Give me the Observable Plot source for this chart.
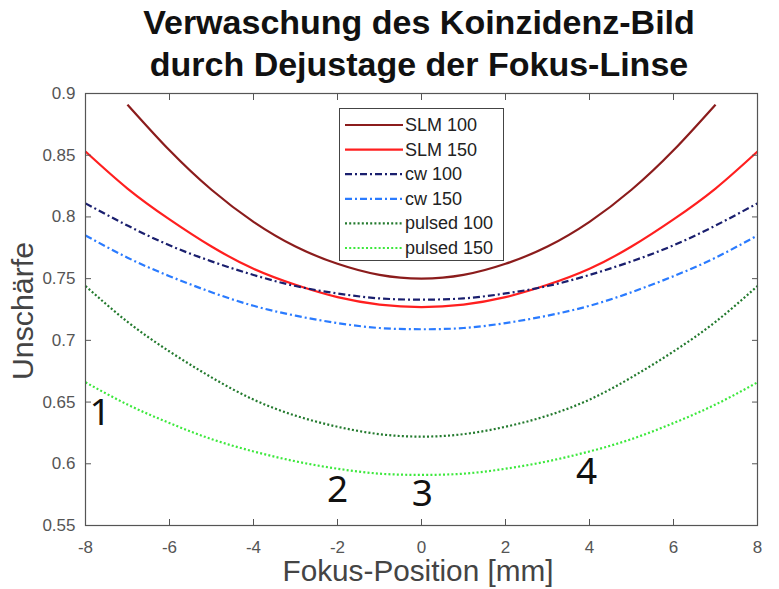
<!DOCTYPE html>
<html><head><meta charset="utf-8">
<script src="https://cdn.jsdelivr.net/npm/d3@7"></script>
<script src="https://cdn.jsdelivr.net/npm/@observablehq/plot@0.6"></script>
<style>
body{margin:0;background:#fff;}
#wrap{position:relative;width:779px;height:589px;}
#legend{position:absolute;left:339px;top:108px;width:165px;height:153px;border:1px solid #444;background:#fff;box-sizing:border-box;}
</style></head><body>
<div id="wrap"><div id="legend"></div></div>
<script>
const title = ["Verwaschung des Koinzidenz-Bild", "durch Dejustage der Fokus-Linse"];
const xLabel = "Fokus-Position [mm]";
const yLabel = "Unschärfe";
const xTicks = [-8,-6,-4,-2,0,2,4,6,8];
const yTicks = [0.55,0.6,0.65,0.7,0.75,0.8,0.85,0.9];

const xsFull = [-8,-7,-6,-5,-4,-3,-2,-1,0,1,2,3,4,5,6,7,8];
const xsSLM100 = [-7,-6,-5,-4,-3,-2,-1,0,1,2,3,4,5,6,7];
const slm100 = [0.891,0.854,0.822,0.796,0.776,0.762,0.753,0.750,0.753,0.762,0.776,0.796,0.822,0.854,0.891];
const slm150 = [0.853,0.823,0.798,0.776,0.758,0.745,0.735,0.729,0.727,0.729,0.735,0.745,0.758,0.776,0.798,0.823,0.853];
const cw100  = [0.811,0.793,0.777,0.764,0.753,0.744,0.738,0.734,0.733,0.734,0.738,0.744,0.753,0.764,0.777,0.793,0.811];
const cw150  = [0.785,0.767,0.752,0.739,0.728,0.720,0.714,0.710,0.709,0.710,0.714,0.720,0.728,0.739,0.752,0.767,0.785];
const pulsed100 = [0.744,0.715,0.691,0.670,0.652,0.639,0.630,0.624,0.622,0.624,0.630,0.639,0.652,0.670,0.691,0.715,0.744];
const pulsed150 = [0.666,0.648,0.633,0.620,0.610,0.602,0.596,0.592,0.591,0.592,0.596,0.602,0.610,0.620,0.633,0.648,0.666];

const seriesNames = ["SLM 100","SLM 150","cw 100","cw 150","pulsed 100","pulsed 150"];
const seriesColors = ["#8b1c1c","#ff1f1f","#1a1f6e","#2a7bff","#237a2e","#3de83d"];
const seriesDash = [null,null,"7,3,2,3","7,3,2,3","2,2.2","2,2.2"];

const annText = ["1","2","3","4"];
const annX = [-7.65,-2.0,0.02,3.93];
const annY = [0.641,0.579,0.575,0.593];

const seriesX = [xsSLM100, xsFull, xsFull, xsFull, xsFull, xsFull];
const seriesY = [slm100, slm150, cw100, cw150, pulsed100, pulsed150];
const data = [];
seriesNames.forEach((n,i)=>seriesX[i].forEach((x,j)=>data.push({series:n, x, y:seriesY[i][j]})));
const ann = annText.map((t,i)=>({t, x:annX[i], y:annY[i]}));

const font = '"Liberation Sans", Arial, sans-serif';
const lineMarks = seriesNames.map((n,i)=>Plot.line(data.filter(d=>d.series===n), {
  x:"x", y:"y", stroke: seriesColors[i], strokeWidth: 2.2, curve:"natural",
  strokeDasharray: seriesDash[i] || undefined, strokeLinecap: "butt"
}));

const chart = Plot.plot({
  width: 779, height: 589,
  marginLeft: 85, marginRight: 22, marginTop: 93, marginBottom: 64,
  style: {fontFamily: font, fontSize: "17px", color: "#555", background: "#fff"},
  x: {domain: [-8, 8]},
  y: {domain: [0.55, 0.9]},
  marks: [
    ...lineMarks,
    Plot.frame({stroke: "#555", strokeWidth: 1.2}),
    Plot.axisX(xTicks, {anchor: "bottom", tickSize: -6, tickPadding: 21, label: null, fontSize: 17, tickFormat: d=>String(d)}),
    Plot.axisX(xTicks, {anchor: "top", tickSize: -6, label: null, tickFormat: ()=>""}),
    Plot.axisY(yTicks, {anchor: "left", tickSize: -6, tickPadding: 16, label: null, fontSize: 17, tickFormat: d=>String(+d.toFixed(2))}),
    Plot.axisY(yTicks, {anchor: "right", tickSize: -6, label: null, tickFormat: ()=>""}),
    Plot.text(ann, {x:"x", y:"y", text:"t", fontSize: 37, fill: "#111", fontFamily: '"Noto Sans", sans-serif'})
  ]
});
const wrap = document.getElementById("wrap");
wrap.insertBefore(chart, wrap.firstChild);
const svg = d3.select(chart);
svg.append("text").attr("x", 419).attr("y", 34).attr("text-anchor","middle")
  .attr("font-family", font).attr("font-weight","bold").attr("font-size", 34).attr("fill","#111").text(title[0]);
svg.append("text").attr("x", 419).attr("y", 76).attr("text-anchor","middle")
  .attr("font-family", font).attr("font-weight","bold").attr("font-size", 34).attr("fill","#111").text(title[1]);
svg.append("text").attr("x", 418).attr("y", 581).attr("text-anchor","middle")
  .attr("font-family", font).attr("font-size", 29).attr("fill","#444")
  .attr("textLength", 271).attr("lengthAdjust","spacingAndGlyphs").text(xLabel);
svg.append("text").attr("transform","translate(33,311) rotate(-90)").attr("text-anchor","middle")
  .attr("font-family", font).attr("font-size", 29).attr("fill","#444")
  .attr("textLength", 138).attr("lengthAdjust","spacingAndGlyphs").text(yLabel);

// legend
const leg = d3.select("#legend").append("svg").attr("width",163).attr("height",151);
seriesNames.forEach((n,i)=>{
  const yy = 16 + i*24.6;
  leg.append("line").attr("x1",5).attr("x2",63).attr("y1",yy).attr("y2",yy)
    .attr("stroke",seriesColors[i]).attr("stroke-width",2.2)
    .attr("stroke-dasharray", seriesDash[i] || null);
  leg.append("text").attr("x",65).attr("y",yy+6).attr("font-family",font).attr("font-size",18).attr("fill","#222").text(n);
});
</script></body></html>
